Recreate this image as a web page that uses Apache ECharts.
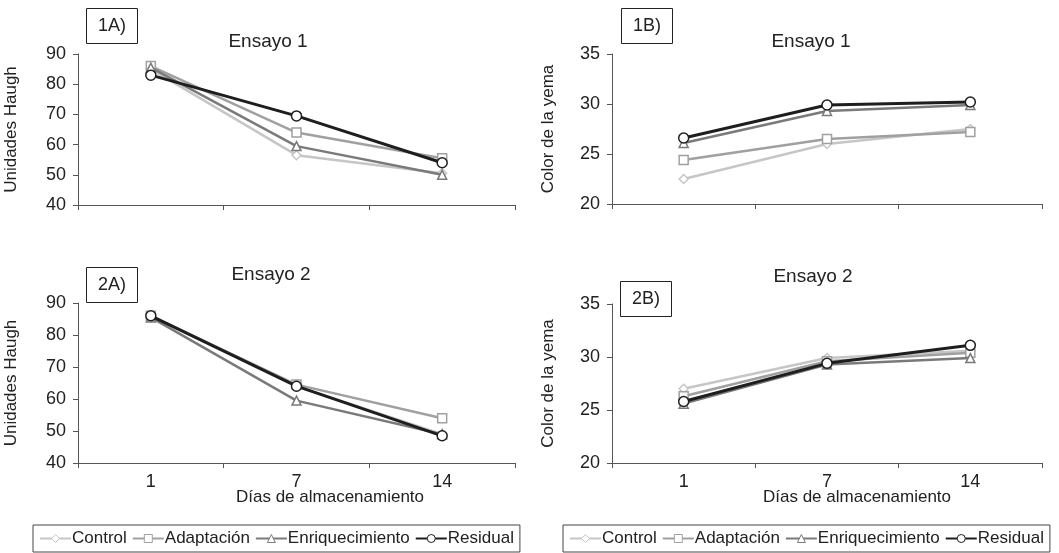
<!DOCTYPE html>
<html><head><meta charset="utf-8">
<script src="https://cdn.jsdelivr.net/npm/echarts@6/dist/echarts.min.js"></script>
<style>html,body{margin:0;padding:0;background:#fff}#c{width:1059px;height:553px}</style>
</head><body><div id="c"></div>
<script>
var days = ['1', '7', '14'];
var seriesNames = ['Control', 'Adaptación', 'Enriquecimiento', 'Residual'];
// Ensayo 1 - Unidades Haugh (1A)
var haugh1Control = [85, 56.5, 50.5];
var haugh1Adapt = [86, 64, 55.5];
var haugh1Enriq = [85.5, 59.5, 50];
var haugh1Resid = [83, 69.5, 54];
// Ensayo 1 - Color de la yema (1B)
var color1Control = [22.5, 26, 27.5];
var color1Adapt = [24.4, 26.5, 27.2];
var color1Enriq = [26.1, 29.3, 29.9];
var color1Resid = [26.6, 29.9, 30.2];
// Ensayo 2 - Unidades Haugh (2A)
var haugh2Control = [86, 64, 49];
var haugh2Adapt = [86, 64.5, 54];
var haugh2Enriq = [85.5, 59.5, 49];
var haugh2Resid = [86, 64, 48.5];
// Ensayo 2 - Color de la yema (2B)
var color2Control = [27, 29.9, 30.6];
var color2Adapt = [26.3, 29.6, 30.4];
var color2Enriq = [25.6, 29.3, 29.9];
var color2Resid = [25.8, 29.4, 31.1];

var FONT = 'Liberation Sans, Arial, sans-serif';
var styles = {
  'Control': {color: '#c6c6c6', symbol: 'diamond', width: 2.5, size: 9},
  'Adaptación': {color: '#a0a0a0', symbol: 'rect', width: 2.5, size: 9},
  'Enriquecimiento': {color: '#7a7a7a', symbol: 'triangle', width: 2.5, size: 9},
  'Residual': {color: '#1e1e1e', symbol: 'circle', width: 3, size: 10}
};
var panels = [
  {data: [haugh1Control, haugh1Adapt, haugh1Enriq, haugh1Resid]},
  {data: [color1Control, color1Adapt, color1Enriq, color1Resid]},
  {data: [haugh2Control, haugh2Adapt, haugh2Enriq, haugh2Resid]},
  {data: [color2Control, color2Adapt, color2Enriq, color2Resid]}
];
var grids = [
  {left: 78, top: 54, width: 437, height: 151},
  {left: 612, top: 54, width: 430, height: 150},
  {left: 78, top: 303, width: 437, height: 160},
  {left: 612, top: 304, width: 430, height: 159}
];
var axisLine = {show: true, lineStyle: {color: '#555', width: 1}};
var xAxes = grids.map(function (g, i) {
  return {
    type: 'category', gridIndex: i, data: days, boundaryGap: true,
    axisLine: axisLine,
    axisTick: {show: true, alignWithLabel: false, length: 5, inside: false, lineStyle: {color: '#555'}},
    axisLabel: {show: i >= 2, fontSize: 18, color: '#222', fontFamily: FONT, margin: 10},
    splitLine: {show: false}
  };
});
var yAxes = grids.map(function (g, i) {
  var haugh = (i % 2 === 0);
  return {
    type: 'value', gridIndex: i,
    min: haugh ? 40 : 20, max: haugh ? 90 : 35, interval: haugh ? 10 : 5,
    name: haugh ? 'Unidades Haugh' : 'Color de la yema',
    nameLocation: 'middle', nameGap: haugh ? 58 : 55,
    nameTextStyle: {fontSize: 17, color: '#222', fontFamily: FONT},
    axisLine: axisLine,
    axisTick: {show: true, length: 5, lineStyle: {color: '#555'}},
    axisLabel: {fontSize: 18, color: '#222', fontFamily: FONT, margin: 12},
    splitLine: {show: false}
  };
});
var series = [];
panels.forEach(function (p, i) {
  seriesNames.forEach(function (n, k) {
    var s = styles[n];
    series.push({
      name: n, type: 'line', xAxisIndex: i, yAxisIndex: i,
      data: p.data[k], symbol: s.symbol, symbolSize: s.size,
      z: 2 + k,
      lineStyle: {color: s.color, width: s.width},
      itemStyle: {color: '#fff', borderColor: s.color, borderWidth: 1.5},
      emphasis: {disabled: true}
    });
  });
});
function box(text, left, top) {
  return {text: text, left: left, top: top, padding: [9, 12], borderWidth: 1, borderColor: '#222',
    textStyle: {fontSize: 18, fontWeight: 'normal', color: '#222', fontFamily: FONT}};
}
function ttl(text, cx, top, size) {
  return {text: text, left: cx, top: top, textAlign: 'center', padding: 0,
    textStyle: {fontSize: size, fontWeight: 'normal', color: '#222', fontFamily: FONT}};
}
var titles = [
  box('1A)', 86, 8), box('1B)', 621, 8), box('2A)', 86, 267), box('2B)', 620, 281),
  ttl('Ensayo 1', 268, 32, 19), ttl('Ensayo 1', 811, 32, 19),
  ttl('Ensayo 2', 271, 265, 19), ttl('Ensayo 2', 813, 267, 19),
  ttl('Días de almacenamiento', 330, 489, 17), ttl('Días de almacenamiento', 857, 489, 17)
];
function legend(left) {
  return {
    data: seriesNames.map(function (n) { return {name: n, itemStyle: {color: '#fff', borderColor: styles[n].color, borderWidth: 1}}; }),
    left: left, top: 525, orient: 'horizontal', padding: [5, 6],
    itemWidth: 31, itemHeight: 10, itemGap: 5,
    borderColor: '#444', borderWidth: 1,
    textStyle: {fontSize: 17, color: '#222', fontFamily: FONT, padding: [0, 0, 0, -4]}
  };
}
var chart = echarts.init(document.getElementById('c'), null, {renderer: 'canvas'});
chart.setOption({
  animation: false,
  backgroundColor: '#fff',
  textStyle: {fontFamily: FONT},
  title: titles,
  legend: [legend(33), legend(563)],
  grid: grids,
  xAxis: xAxes,
  yAxis: yAxes,
  series: series
});
</script></body></html>
